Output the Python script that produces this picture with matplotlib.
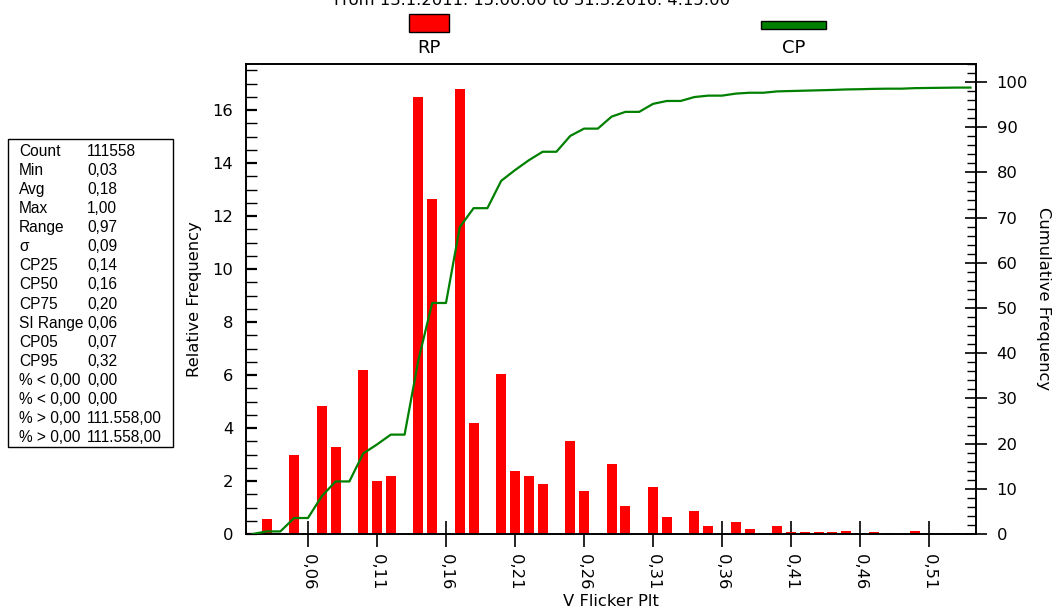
import matplotlib
matplotlib.use('Agg')
import matplotlib.pyplot as plt
import numpy as np
from matplotlib.patches import Rectangle
from matplotlib.ticker import FixedLocator, MultipleLocator

plt.rcParams['font.family'] = ['DejaVu Sans']

# ---------------- data ----------------
bin_centers = [0.02, 0.03, 0.04, 0.05, 0.06, 0.07, 0.08, 0.09, 0.10, 0.11,
               0.12, 0.13, 0.14, 0.15, 0.16, 0.17, 0.18, 0.19, 0.20, 0.21,
               0.22, 0.23, 0.24, 0.25, 0.26, 0.27, 0.28, 0.29, 0.30, 0.31,
               0.32, 0.33, 0.34, 0.35, 0.36, 0.37, 0.38, 0.39, 0.40, 0.41,
               0.42, 0.43, 0.44, 0.45, 0.46, 0.47, 0.48, 0.49, 0.50, 0.51,
               0.52, 0.53, 0.54]
rel_freq = [0.00, 0.57, 0.00, 2.97, 0.00, 4.82, 3.27, 0.00, 6.18, 2.00,
            2.18, 0.00, 16.50, 12.63, 0.00, 16.80, 4.18, 0.00, 6.05, 2.37,
            2.18, 1.88, 0.00, 3.50, 1.62, 0.00, 2.66, 1.05, 0.00, 1.77,
            0.64, 0.00, 0.87, 0.31, 0.00, 0.45, 0.19, 0.00, 0.30, 0.08,
            0.08, 0.08, 0.08, 0.11, 0.05, 0.08, 0.04, 0.00, 0.12, 0.04,
            0.04, 0.04, 0.00]
cum_freq = np.cumsum(rel_freq)

x_ticks = [0.06, 0.11, 0.16, 0.21, 0.26, 0.31, 0.36, 0.41, 0.46, 0.51]
x_tick_labels = ['0,06', '0,11', '0,16', '0,21', '0,26', '0,31', '0,36',
                 '0,41', '0,46', '0,51']
y_left_ticks = [0, 2, 4, 6, 8, 10, 12, 14, 16]
y_right_ticks = [0, 10, 20, 30, 40, 50, 60, 70, 80, 90, 100]

stats_names = ['Count', 'Min', 'Avg', 'Max', 'Range', 'σ', 'CP25', 'CP50',
               'CP75', 'SI Range', 'CP05', 'CP95', '% < 0,00', '% < 0,00',
               '% > 0,00', '% > 0,00']
stats_values = ['111558', '0,03', '0,18', '1,00', '0,97', '0,09', '0,14',
                '0,16', '0,20', '0,06', '0,07', '0,32', '0,00', '0,00',
                '111.558,00', '111.558,00']

title_text = 'From 13.1.2011. 15:00:00 to 31.3.2016. 4:15:00'

# ---------------- figure ----------------
W, H = 1054, 610
DPI = 100
PT = 72.0 / DPI  # points per pixel
fig = plt.figure(figsize=(W / DPI, H / DPI), dpi=DPI)

ax_l, ax_r, ax_t, ax_b = 246, 976, 64, 534
ax = fig.add_axes([ax_l / W, 1 - ax_b / H, (ax_r - ax_l) / W, (ax_b - ax_t) / H])
ax.bar(bin_centers, rel_freq, width=0.0072, color='#ff0000', zorder=2)
ax.set_xlim(0.0151, 0.544)
ax.set_ylim(0, 17.74)

ax2 = ax.twinx()
ax2.plot(bin_centers, cum_freq, color='#008000', lw=1.6, zorder=3)
ax2.set_ylim(0, 104)

fs = 11.8
# x axis
ax.xaxis.set_major_locator(FixedLocator(x_ticks))
ax.set_xticklabels(x_tick_labels, rotation=270, fontsize=fs)
ax.tick_params(axis='x', which='major', direction='inout', length=27 * PT,
               width=1.2, pad=6 * PT, top=False)
ax.tick_params(axis='x', which='minor', bottom=False, top=False)
# left axis
ax.yaxis.set_major_locator(FixedLocator(y_left_ticks))
ax.yaxis.set_minor_locator(MultipleLocator(0.5))
ax.set_yticklabels([str(v) for v in y_left_ticks], fontsize=fs)
ax.tick_params(axis='y', which='major', direction='in', length=11 * PT,
               width=1.6, pad=13 * PT, right=False)
ax.tick_params(axis='y', which='minor', direction='in', length=11 * PT,
               width=1.0, right=False)
# right axis
ax2.yaxis.set_major_locator(FixedLocator(y_right_ticks))
ax2.yaxis.set_minor_locator(MultipleLocator(2))
ax2.set_yticklabels([str(v) for v in y_right_ticks], fontsize=fs)
ax2.tick_params(axis='y', which='major', direction='inout', length=23 * PT,
                width=1.2, pad=9 * PT, left=False)
ax2.tick_params(axis='y', which='minor', direction='in', length=9 * PT,
                width=1.0, left=False)

for a in (ax, ax2):
    for s in a.spines.values():
        s.set_linewidth(1.2)
        s.set_color('black')

ax.set_ylabel('Relative Frequency', fontsize=fs, va='center')
ax.yaxis.set_label_coords((194 - ax_l) / (ax_r - ax_l), 0.5)
ax2.set_ylabel('Cumulative Frequency', fontsize=fs, rotation=270, va='center')
ax2.yaxis.set_label_coords((1043 - ax_l) / (ax_r - ax_l), 0.5)
ax.set_xlabel('V Flicker Plt', fontsize=fs, va='bottom')
ax.xaxis.set_label_coords(0.5, -(609 - ax_b) / (ax_b - ax_t))

# title (cut at top edge as in the source)
fig.text(532 / W, 1 - 5 / H, title_text, ha='center', va='baseline', fontsize=fs)

# legend
fig.add_artist(Rectangle((409 / W, 1 - 32 / H), 40 / W, 18 / H,
                         transform=fig.transFigure, facecolor='#ff0000',
                         edgecolor='black', lw=1))
fig.add_artist(Rectangle((761 / W, 1 - 29 / H), 65 / W, 8 / H,
                         transform=fig.transFigure, facecolor='#008000',
                         edgecolor='black', lw=1))
fig.text(429 / W, 1 - 48 / H, 'RP', ha='center', va='center', fontsize=13)
fig.text(794 / W, 1 - 48 / H, 'CP', ha='center', va='center', fontsize=13)

# statistics box
fig.add_artist(Rectangle((8 / W, 1 - 447 / H), 165 / W, 308 / H,
                         transform=fig.transFigure, facecolor='white',
                         edgecolor='black', lw=1))
for i, (n, v) in enumerate(zip(stats_names, stats_values)):
    y = 151 + i * 19.13
    fig.text(19 / W, 1 - y / H, n, ha='left', va='center', fontsize=11.2,
             family=['Liberation Sans', 'DejaVu Sans'])
    fig.text(87 / W, 1 - y / H, v, ha='left', va='center', fontsize=11.2,
             family=['Liberation Sans', 'DejaVu Sans'])

fig.savefig('out.png', dpi=DPI)
